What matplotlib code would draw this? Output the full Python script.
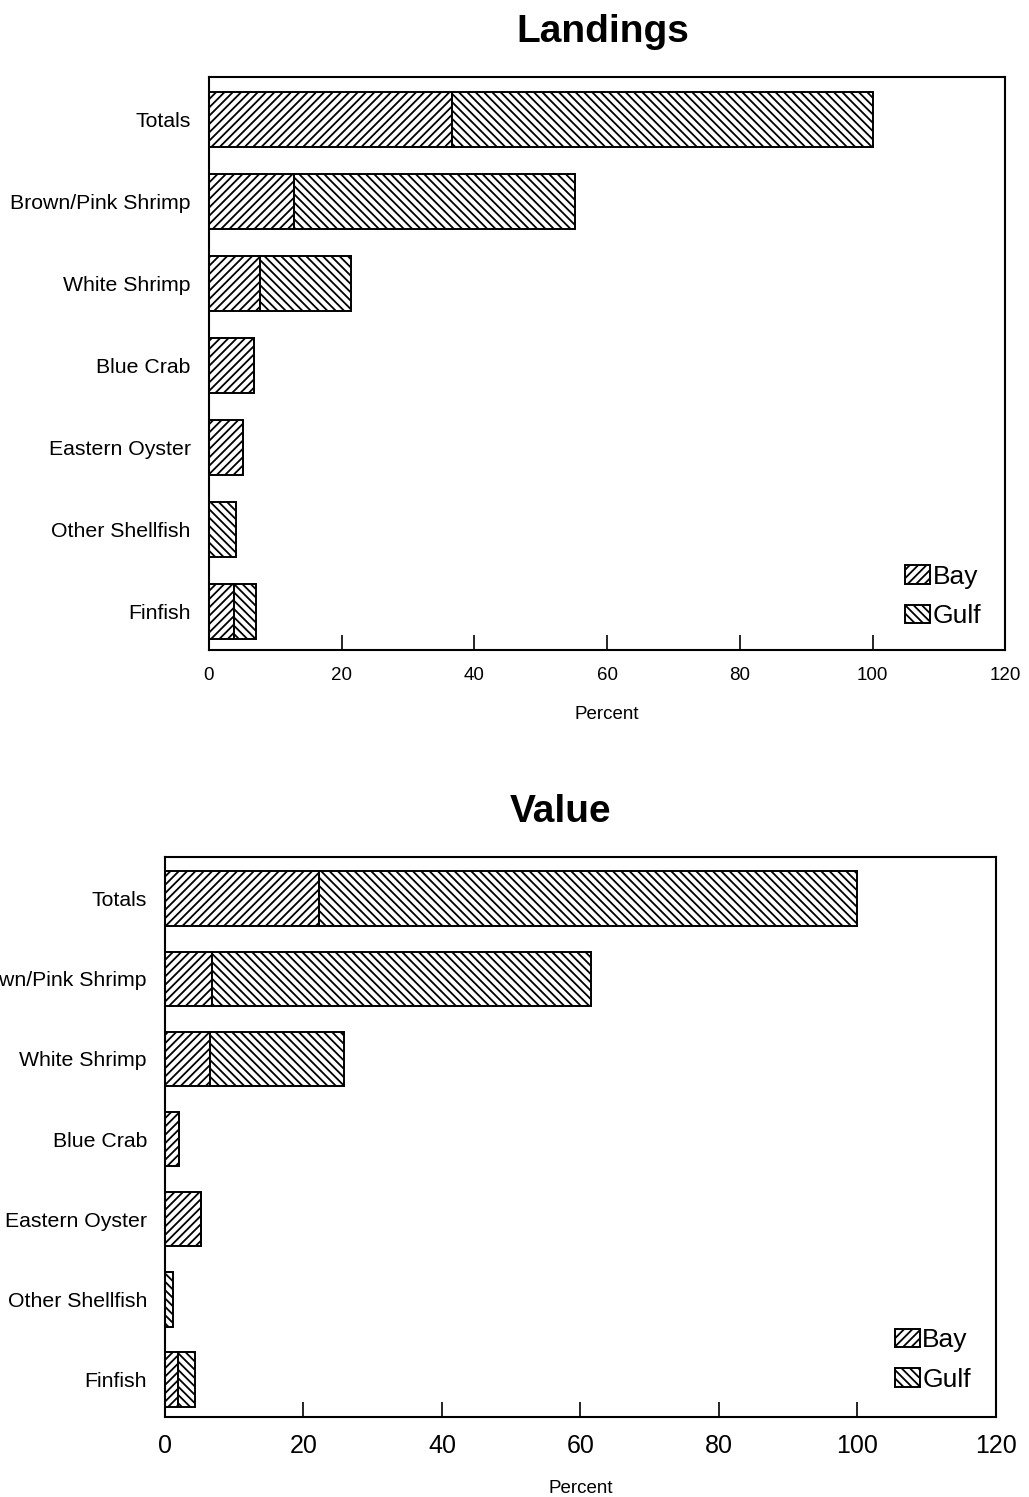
import matplotlib
matplotlib.use("Agg")
import matplotlib.pyplot as plt
import numpy as np

plt.rcParams['font.family'] = ['Liberation Sans', 'DejaVu Sans']
plt.rcParams['hatch.linewidth'] = 1.3

categories = ["Totals", "Brown/Pink Shrimp", "White Shrimp", "Blue Crab",
              "Eastern Oyster", "Other Shellfish", "Finfish"]

# percent of total, Bay part and Gulf part
landings_bay = [36.7, 12.8, 7.7, 6.8, 5.2, 0.0, 3.8]
landings_gulf = [63.3, 42.4, 13.7, 0.0, 0.0, 4.1, 3.3]

value_bay = [22.3, 6.8, 6.5, 2.0, 5.2, 0.0, 1.9]
value_gulf = [77.7, 54.7, 19.3, 0.0, 0.0, 1.2, 2.5]

x_ticks = [0, 20, 40, 60, 80, 100, 120]


def draw_panel(ax, bay, gulf, title, title_x, tick_size, leg_anchor):
    y = np.arange(len(categories))[::-1]
    bay = np.array(bay)
    gulf = np.array(gulf)
    ax.barh(y, bay, height=0.68, color='white', edgecolor='black',
            linewidth=1.4, hatch='////', label='Bay')
    ax.barh(y, gulf, left=bay, height=0.68, color='white', edgecolor='black',
            linewidth=1.4, hatch='\\\\\\\\', label='Gulf')

    ax.set_xlim(0, 120)
    ax.set_ylim(-0.47, 6.52)
    ax.set_xticks(x_ticks)
    ax.set_xticklabels([str(t) for t in x_ticks], fontsize=tick_size)
    ax.set_yticks(y)
    ax.set_yticklabels(categories, fontsize=15.3)
    ax.tick_params(axis='x', direction='in', length=11, width=1.2, pad=12)
    ax.tick_params(axis='y', length=0, pad=13)
    for s in ax.spines.values():
        s.set_linewidth(1.5)

    ax.set_xlabel("Percent", fontsize=13.5, labelpad=16)
    ax.set_title(title, fontsize=28, fontweight='bold', pad=25, x=title_x)

    ax.legend(loc='upper left', bbox_to_anchor=leg_anchor, frameon=False,
              fontsize=19, borderpad=0, borderaxespad=0, handlelength=0.95,
              handleheight=0.7, handletextpad=0.1, labelspacing=0.6)


fig = plt.figure(figsize=(10.29, 14.97), dpi=100)
ax1 = fig.add_axes([0.203, 0.5658, 0.774, 0.3828])
ax2 = fig.add_axes([0.1603, 0.0534, 0.8076, 0.3741])

draw_panel(ax1, landings_bay, landings_gulf, "Landings", 0.495, 13.5, (0.874, 0.149))
draw_panel(ax2, value_bay, value_gulf, "Value", 0.4765, 18, (0.878, 0.159))

fig.savefig("out.png", dpi=100)
